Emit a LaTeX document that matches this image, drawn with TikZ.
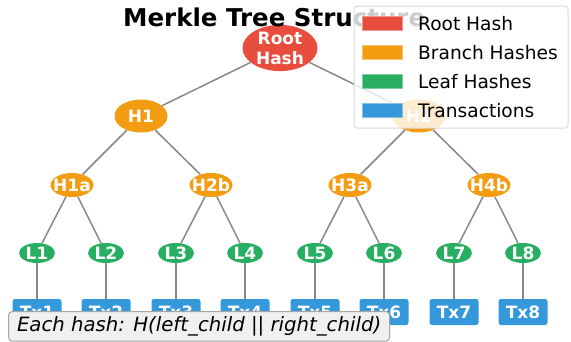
\documentclass[tikz,border=0pt]{standalone}
\usepackage{fontspec}
\setmainfont{DejaVu Sans}
\usepackage{xcolor}
\usetikzlibrary{shapes.geometric}

\definecolor{rootred}{HTML}{E74C3C}
\definecolor{branchorange}{HTML}{F39C12}
\definecolor{leafgreen}{HTML}{27AE60}
\definecolor{txblue}{HTML}{3498DB}
\definecolor{linkgray}{HTML}{888888}

\newcommand{\hashfont}{\fontsize{17}{20}\selectfont\bfseries}

\tikzset{
	hashnode/.style={ellipse,inner sep=0pt,text=white,font=\hashfont,align=center},
	roothash/.style={hashnode,fill=rootred,minimum width=75pt,minimum height=46pt},
	branchhash/.style={hashnode,fill=branchorange,minimum width=53pt,minimum height=33pt},
	subhash/.style={hashnode,fill=branchorange,minimum width=43pt,minimum height=24pt},
	leafhash/.style={hashnode,fill=leafgreen,minimum width=36pt,minimum height=20pt},
	txbox/.style={rectangle,rounded corners=2.5pt,fill=txblue,inner sep=0pt,minimum width=49pt,minimum height=26pt,text=white,font=\hashfont},
	link/.style={draw=linkgray,line width=1.5pt},
	keypatch/.style={rectangle,fill=#1,draw=#1!60!white,line width=0.6pt,inner sep=0pt,minimum width=40pt,minimum height=14pt},
	keytext/.style={anchor=base west,inner sep=0pt,font=\fontsize{18.6}{22}\selectfont},
	legendbox/.style={rectangle,rounded corners=3pt,fill=white,fill opacity=0.8,draw=gray!30,line width=1pt},
	notebox/.style={rectangle,rounded corners=4pt,fill=gray!12,draw=gray!70,line width=1pt,inner xsep=8.5pt,inner ysep=5pt,font=\fontsize{19.7}{22}\selectfont\itshape},
}

\begin{document}
\begin{tikzpicture}[x=1pt,y=-1pt]
	\clip (0,0) rectangle (571,341) ;
	% hashes
	\node (root) [roothash] at (280,48) {Root\\Hash} ;
	\node (h1) [branchhash] at (141,116) {H1} ;
	\node (h2) [branchhash] at (419,116) {H2} ;
	\node (h1a) [subhash] at (72,185) {\makebox[0pt]{H1a}} ;
	\node (h2b) [subhash] at (211,185) {\makebox[0pt]{H2b}} ;
	\node (h3a) [subhash] at (350,185) {\makebox[0pt]{H3a}} ;
	\node (h4b) [subhash] at (489,185) {\makebox[0pt]{H4b}} ;
	\node (l1) [leafhash] at (37,253) {L1} ;
	\node (l2) [leafhash] at (106,253) {L2} ;
	\node (l3) [leafhash] at (176,253) {L3} ;
	\node (l4) [leafhash] at (245,253) {L4} ;
	\node (l5) [leafhash] at (315,253) {L5} ;
	\node (l6) [leafhash] at (384,253) {L6} ;
	\node (l7) [leafhash] at (454,253) {L7} ;
	\node (l8) [leafhash] at (523,253) {L8} ;
	% transactions
	\node (tx1) [txbox] at (37,312) {Tx1} ;
	\node (tx2) [txbox] at (106,312) {Tx2} ;
	\node (tx3) [txbox] at (176,312) {Tx3} ;
	\node (tx4) [txbox] at (245,312) {Tx4} ;
	\node (tx5) [txbox] at (315,312) {Tx5} ;
	\node (tx6) [txbox] at (384,312) {Tx6} ;
	\node (tx7) [txbox] at (454,312) {Tx7} ;
	\node (tx8) [txbox] at (523,312) {Tx8} ;
	% links
	\draw[link] (root) -- (h1) ;
	\draw[link] (root) -- (h2) ;
	\draw[link] (h1) -- (h1a) ;
	\draw[link] (h1) -- (h2b) ;
	\draw[link] (h2) -- (h3a) ;
	\draw[link] (h2) -- (h4b) ;
	\draw[link] (h1a) -- (l1) ;
	\draw[link] (h1a) -- (l2) ;
	\draw[link] (h2b) -- (l3) ;
	\draw[link] (h2b) -- (l4) ;
	\draw[link] (h3a) -- (l5) ;
	\draw[link] (h3a) -- (l6) ;
	\draw[link] (h4b) -- (l7) ;
	\draw[link] (h4b) -- (l8) ;
	\draw[link] (l1) -- (tx1) ;
	\draw[link] (l2) -- (tx2) ;
	\draw[link] (l3) -- (tx3) ;
	\draw[link] (l4) -- (tx4) ;
	\draw[link] (l5) -- (tx5) ;
	\draw[link] (l6) -- (tx6) ;
	\draw[link] (l7) -- (tx7) ;
	\draw[link] (l8) -- (tx8) ;
	% title and note
	\node (title) [anchor=base west,inner sep=0pt,font=\fontsize{24.5}{28}\selectfont\bfseries] at (123,26) {Merkle Tree Structure} ;
	\node (note) [notebox,anchor=north west] at (8,311) {Each hash: H(left\_child || right\_child)} ;
	% legend
	\node (legend) [legendbox,minimum width=214pt,minimum height=122pt] at (461,67) {} ;
	\node (keyroot) [keypatch=rootred] at (382,23.5) {} ;
	\node (keybranch) [keypatch=branchorange] at (382,52.5) {} ;
	\node (keyleaf) [keypatch=leafgreen] at (382,81.5) {} ;
	\node (keytx) [keypatch=txblue] at (382,110.5) {} ;
	\node (keyroottext) [keytext] at (418,30) {Root Hash} ;
	\node (keybranchtext) [keytext] at (418,59) {Branch Hashes} ;
	\node (keyleaftext) [keytext] at (418,88) {Leaf Hashes} ;
	\node (keytxtext) [keytext] at (418,117) {Transactions} ;
\end{tikzpicture}
\end{document}
